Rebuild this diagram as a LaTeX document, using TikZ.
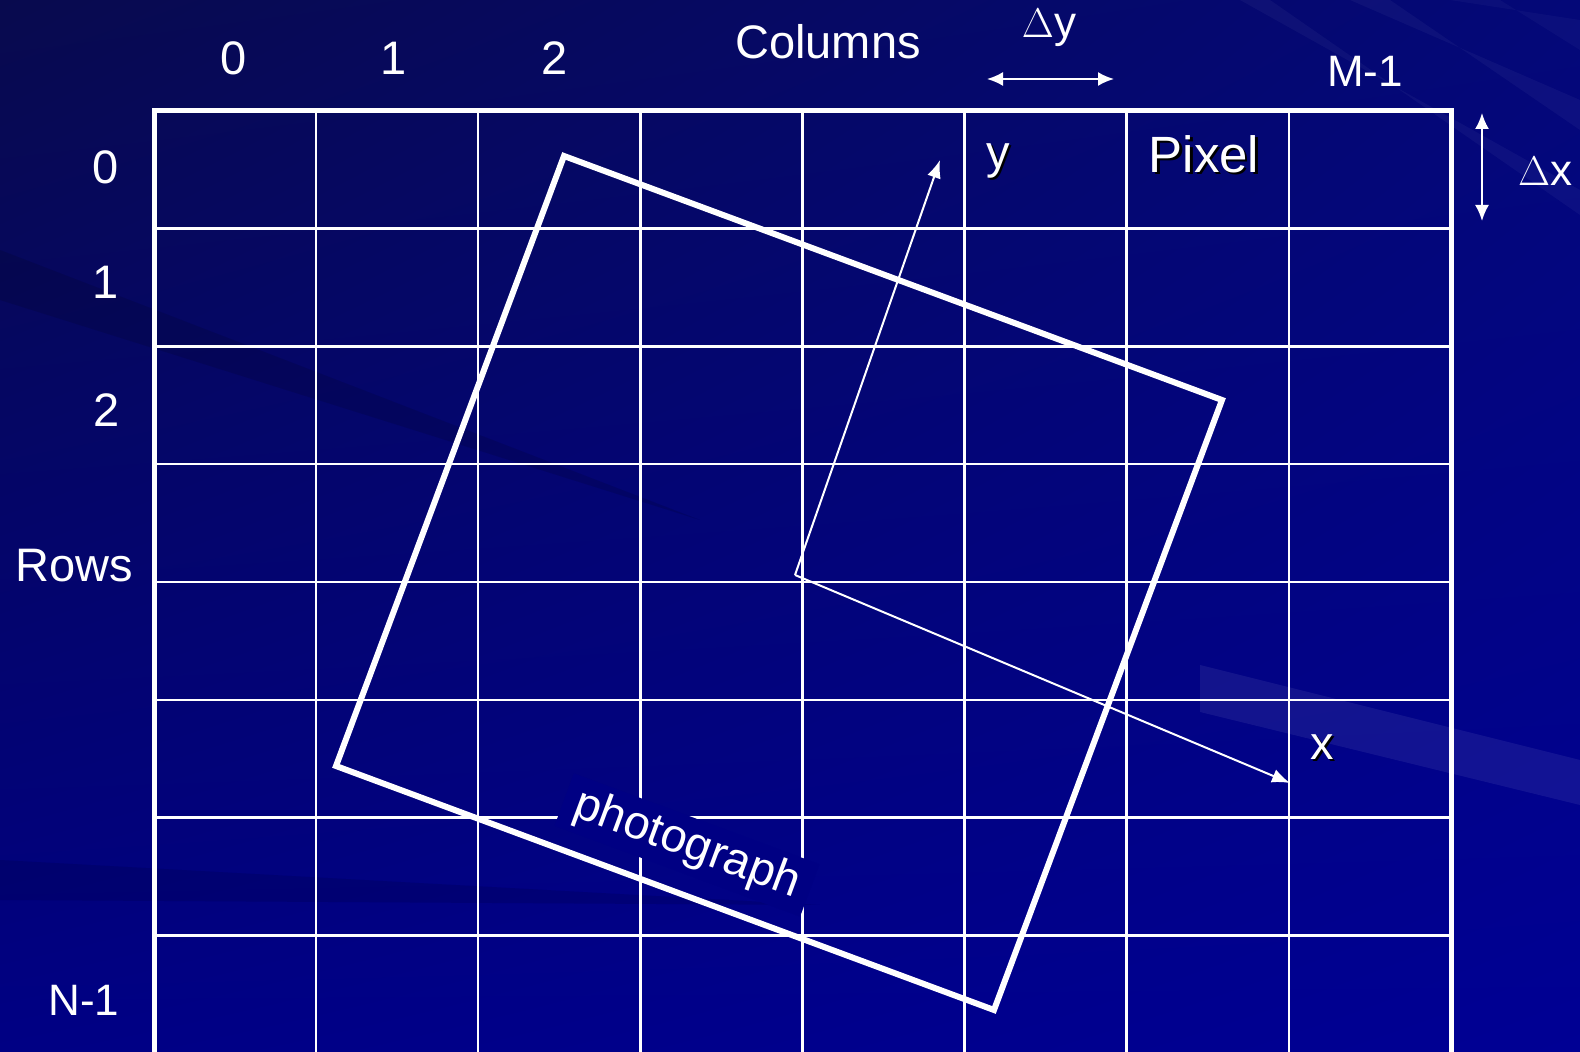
\documentclass[tikz,border=0pt]{standalone}
\usepackage{fontspec}
\setmainfont{Liberation Sans}
\usetikzlibrary{arrows.meta, shadings}

\definecolor{slidenavy}{RGB}{0,0,138}
\definecolor{slidedark}{RGB}{8,10,78}
\definecolor{slidemid}{RGB}{4,8,120}
\definecolor{slidelow}{RGB}{0,0,132}
\definecolor{slideright}{RGB}{0,0,148}
\definecolor{photofill}{RGB}{0,0,131}

% text with a small dark drop shadow
\newcommand{\shadowed}[1]{\makebox[0pt][l]{\kern1.2pt\raisebox{-1.2pt}{\color{black}#1}}#1}

\begin{document}
\begin{tikzpicture}[
    x=0.5pt, y=-0.5pt,
    celltext/.style={text=white, inner sep=0pt, font=\fontsize{23.5}{26}\selectfont},
    smalltext/.style={celltext, font=\fontsize{22}{24}\selectfont},
    bigtext/.style={celltext, font=\fontsize{25.5}{28}\selectfont},
    cell line/.style={white, line width=1.2pt},
    frame line/.style={white, line width=2.5pt},
    photo line/.style={white, line width=3pt, line join=miter},
    axisarrow/.style={-{Latex[length=9pt,width=7pt]}, white, line width=1pt},
    spanarrow/.style={{Latex[length=8pt,width=7pt]}-{Latex[length=8pt,width=7pt]}, white, line width=1pt}
]

\useasboundingbox (0,0) rectangle (1580,1052);

% background of the slide
\fill[slidenavy] (0,0) rectangle (1580,1052);
\shade[upper left=slidedark, upper right=slidemid, lower left=slidelow, lower right=slideright]
    (0,0) rectangle (1580,1052);
\fill[white, opacity=0.07] (1200,665) -- (1580,760) -- (1580,805) -- (1200,712) -- cycle;
\fill[white, opacity=0.04] (1350,0) -- (1390,0) -- (1580,130) -- (1580,100) -- cycle;
\fill[white, opacity=0.04] (1240,0) -- (1270,0) -- (1580,215) -- (1580,190) -- cycle;
\fill[white, opacity=0.03] (1450,0) -- (1500,0) -- (1580,50) -- (1580,20) -- cycle;
\fill[black, opacity=0.12] (0,250) -- (0,300) -- (700,520) -- cycle;
\fill[black, opacity=0.10] (0,860) -- (0,900) -- (820,905) -- cycle;

% pixel grid
\foreach \gx in {1,...,7}
    \draw[cell line] ({154+162.1*\gx},110.8) -- ({154+162.1*\gx},1052);
\foreach \gy in {1,...,7}
    \draw[cell line] (154,{110.8+117.8*\gy}) -- (1451,{110.8+117.8*\gy});
\draw[frame line] (154,1060) -- (154,110.8) -- (1451,110.8) -- (1451,1060);

% the rotated photograph
\node (photo) [celltext, fill=photofill, rotate=-20.3, inner xsep=6pt, inner ysep=3pt] at (687,845) {photograph};

\coordinate (ptop)    at (564,156);
\coordinate (pright)  at (1222,400);
\coordinate (pbottom) at (994,1010);
\coordinate (pleft)   at (336,766);
\draw[photo line] (ptop) -- (pright) -- (pbottom) -- (pleft) -- cycle;

% image axes
\coordinate (origin) at (795,575);
\coordinate (ytip)   at (940,160);
\coordinate (xtip)   at (1290,783);
\draw[axisarrow] (origin) -- (ytip);
\draw[axisarrow] (origin) -- (xtip);

\node (ylab)  [celltext] at (998,162)  {\shadowed{y}};
\node (xlab)  [celltext] at (1322,748) {\shadowed{x}};
\node (pixel) [bigtext]  at (1204,155) {\shadowed{Pixel}};

% column labels
\node (col0)    [celltext] at (234,58)  {0};
\node (col1)    [celltext] at (394,58)  {1};
\node (col2)    [celltext] at (555,58)  {2};
\node (columns) [celltext] at (828,42)  {Columns};
\node (colM)    [smalltext] at (1365,71) {M-1};

% row labels
\node (row0) [celltext] at (106,167) {0};
\node (row1) [celltext] at (106,282) {1};
\node (row2) [celltext] at (107,410) {2};
\node (rows) [celltext] at (74,566)  {Rows};
\node (rowN) [smalltext] at (84,1000) {N-1};

% pixel spacing
\node (dy) [smalltext] at (1049,28) {$\Delta$y};
\coordinate (dyleft)  at (987,79);
\coordinate (dyright) at (1114,79);
\draw[spanarrow] (dyleft) -- (dyright);

\node (dx) [smalltext] at (1545,171) {$\Delta$x};
\coordinate (dxtop)    at (1482,113);
\coordinate (dxbottom) at (1482,221);
\draw[spanarrow] (dxtop) -- (dxbottom);

\end{tikzpicture}
\end{document}
